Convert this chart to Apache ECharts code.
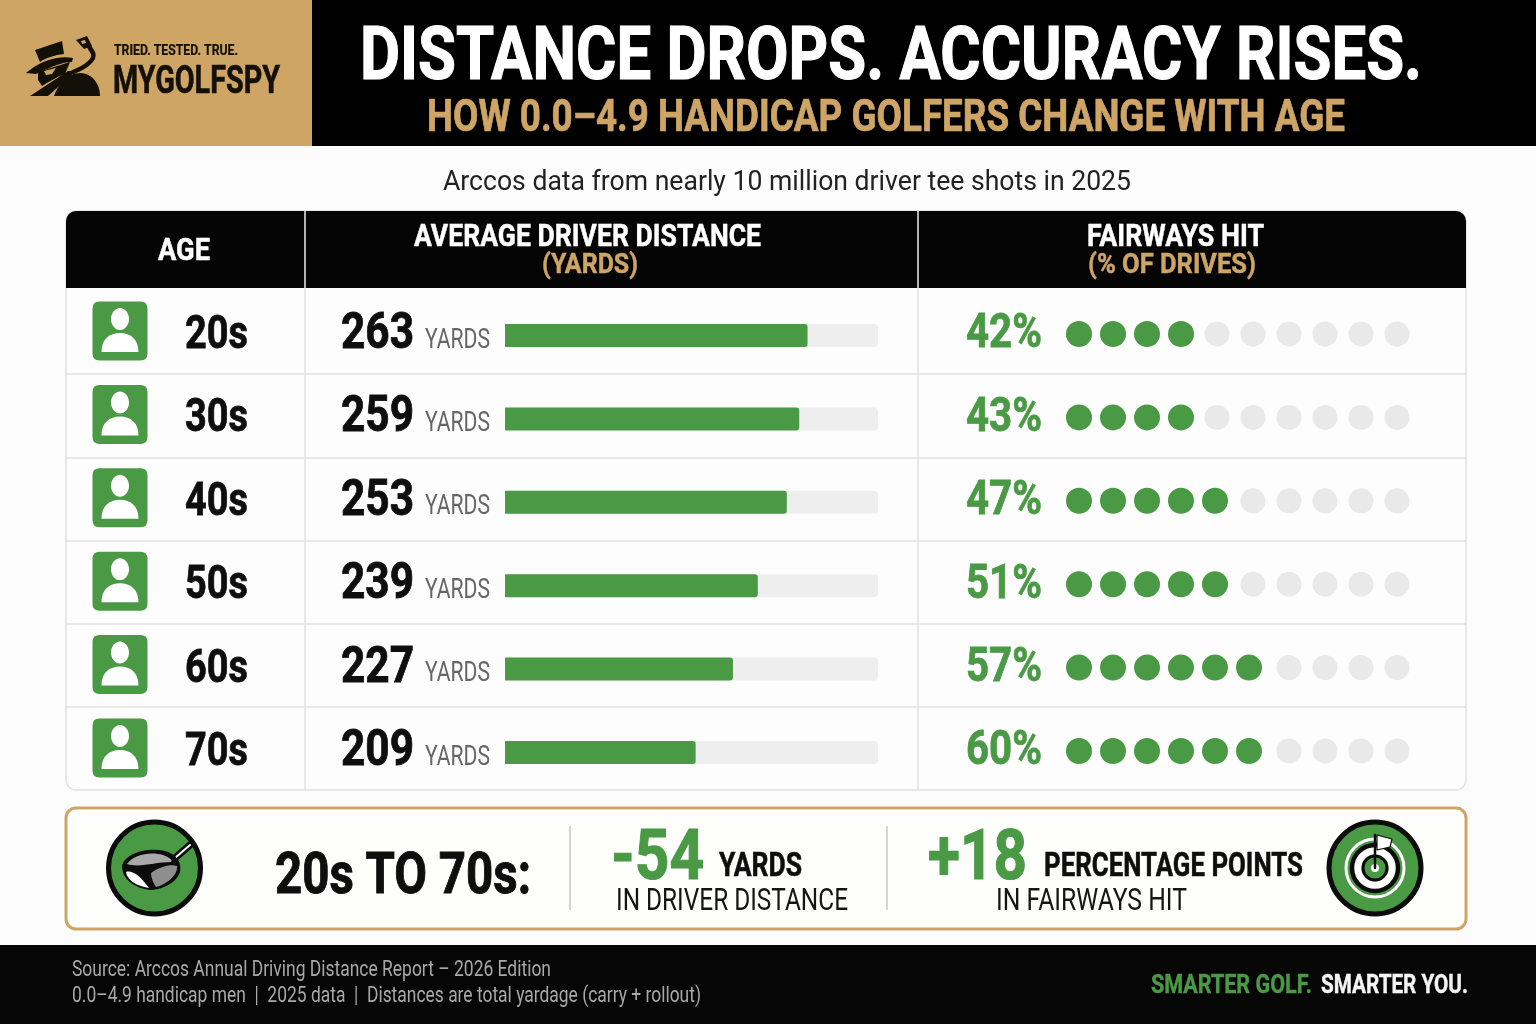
<!DOCTYPE html>
<html><head><meta charset="utf-8">
<style>html,body{margin:0;padding:0;background:#fdfcfc}#c{width:1536px;height:1024px}</style>
<script src="https://cdn.jsdelivr.net/npm/echarts@6/dist/echarts.min.js"></script>
</head><body><div id="c"></div>
<script>
const ages = ['20s','30s','40s','50s','60s','70s'];
const yards = [263,259,253,239,227,209];
const fairways = [42,43,47,51,57,60];
const filledDots = [4,4,5,5,6,6];
const dotSlots = [1,2,3,4,5,6,7,8,9,10];

const GREEN='#4a9a45', GOLD='#cfa566', FACE='Roboto,sans-serif';
const measure=document.createElement('canvas').getContext('2d');
function textSpec(text,x0,x1,y,size,fill,weight,family){
  const font=(weight||'bold')+' '+size+'px '+(family||FACE);
  measure.font=font;
  const w=measure.measureText(text).width;
  const bold=(weight||'bold')==='bold';
  return {type:'text',x:x0,y:y+size*0.09,scaleX:(x1-x0)/w,z:5,silent:true,
    style:{text:text,x:0,y:0,font:font,fill:fill,stroke:bold?fill:'none',lineWidth:bold?size*0.016:0,
           textAlign:'left',textVerticalAlign:'middle'}};
}
const T=textSpec;
let pid=0;
function P(d,fill,stroke,lw,z){
  const name='iconPath'+(pid++);
  echarts.graphic.registerShape(name,echarts.graphic.extendPath(d,{}));
  return {type:name,z:z||6,silent:true,style:{fill:fill||'none',stroke:stroke||'none',lineWidth:lw||0,lineJoin:'round',lineCap:'round'}};
}
function rect(x,y,w,h,fill,r,stroke,lw){return {type:'rect',z:1,silent:true,shape:{x,y,width:w,height:h,r:r||0},style:{fill:fill||'none',stroke:stroke||'none',lineWidth:lw||0}};}
function line(x1,y1,x2,y2,c,lw){return {type:'line',z:3,silent:true,shape:{x1,y1,x2,y2},style:{stroke:c,lineWidth:lw}};}
function circ(cx,cy,r,fill,stroke,lw){return {type:'circle',z:6,silent:true,shape:{cx,cy,r},style:{fill:fill||'none',stroke:stroke||'none',lineWidth:lw||0}};}

const RULE='#e4e0de';
const gfx=[
  rect(0,0,1536,146,'#000'), rect(0,0,312,146,GOLD),
  rect(0,945,1536,79,'#060606'),
  rect(66,211,1400,579,'#fefdfd',10,RULE,1.5),
  rect(66,211,1400,77,'#050505',[10,10,0,0]),
  rect(66,808,1400,121,'#fefefd',10,GOLD,3),
  line(305,211,305,288,'#eee',1.5), line(918,211,918,288,'#eee',1.5),
  line(305,288,305,790,RULE,1.5), line(918,288,918,790,RULE,1.5),
  line(66,374,1466,374,RULE,1.5), line(66,458,1466,458,RULE,1.5), line(66,541,1466,541,RULE,1.5),
  line(66,624,1466,624,RULE,1.5), line(66,707,1466,707,RULE,1.5),
  line(570,826,570,910,'#c9c5c0',1.5), line(887,826,887,910,'#c9c5c0',1.5),

  T('TRIED. TESTED. TRUE.',114,238,50,15,'#141008'),
  T('MYGOLFSPY',113,280,80,38,'#141008'),
  T('DISTANCE DROPS. ACCURACY RISES.',360,1422,54,74,'#fff'),
  T('HOW 0.0–4.9 HANDICAP GOLFERS CHANGE WITH AGE',427,1345,116,44,GOLD),
  T('Arccos data from nearly 10 million driver tee shots in 2025',443,1131,180,28,'#222','normal','Roboto'),
  T('AGE',158,210,249,31,'#fff'),
  T('AVERAGE DRIVER DISTANCE',414,761,235,31,'#fff'),
  T('(YARDS)',542,638,264,27,GOLD),
  T('FAIRWAYS HIT',1087,1264,235,31,'#fff'),
  T('(% OF DRIVES)',1088,1256,264,27,GOLD),
  T('20s TO 70s:',275,531,873,58,'#0e0e0e'),
  T('-54',611,704,855,70,GREEN),
  T('YARDS',719,802,864,34,'#0e0e0e'),
  T('IN DRIVER DISTANCE',616,848,899,31,'#151515','normal'),
  T('+18',928,1027,855,70,GREEN),
  T('PERCENTAGE POINTS',1044,1303,864,34,'#0e0e0e'),
  T('IN FAIRWAYS HIT',996,1187,899,31,'#151515','normal'),
  T('Source: Arccos Annual Driving Distance Report – 2026 Edition',72,551,969,22,'#a8a8a8','normal'),
  T('0.0–4.9 handicap men  |  2025 data  |  Distances are total yardage (carry + rollout)',72,701,995,22,'#a8a8a8','normal'),
  T('SMARTER GOLF.',1151,1312,984,26,GREEN),
  T('SMARTER YOU.',1321,1468,984,26,'#f4f4f4'),

  // logo
  P('M35,50 L62,41 L64,54 C55,55 45,58 40,62 Z','#141008'),
  P('M26,73 C40,60 60,55 73,58 L72,62 C60,62 45,70 36,74 Z','#141008'),
  P('M38,72 L70,62 L65,74 C56,77 49,82 42,86 L38,80 Z','#141008'),
  P('M44,71 L56,68 L52,74 L46,75 Z',GOLD),
  P('M30,96 L68,71 L76,71 L48,96 Z','#141008'),
  P('M54,96 C58,84 68,73 80,73 C92,73 100,84 100,96 Z','#141008'),
  P('M73,72 C84,68 96,60 93,53 L87,43','none','#141008',4.5),
  P('M76,40 L87,36 L92,46 L84,49 Z','#141008'),
  P('M81,41 L85,40 L86,43 L82,44 Z',GOLD),

  // club badge
  circ(154.5,868,46,GREEN,'#0c0c0c',5),
  P('M175,858 L190,845','none','#0c0c0c',7),
  P('M175,858 L190,845','none','#fff',2),
  P('M122,866 C125,852 150,847 165,851 C176,854 182,862 180,872 C176,884 160,890 150,890 C135,888 122,880 122,866 Z','#0c0c0c'),
  P('M127,864 C133,855 150,851 163,855 C170,858 173,860 171,862 C155,862 140,868 127,864 Z','#a9a9a9'),
  P('M126,872 C131,870 139,874 149,888 C136,886 127,880 126,872 Z','#fff'),
  P('M151,873 C160,866 172,864 177,866 C178,876 165,885 156,887 C153,882 151,878 151,873 Z','#8e8e8e'),

  // target badge
  circ(1375,868,46,GREEN,'#0c0c0c',5),
  circ(1375,868,29,'none','#fff',3),
  circ(1375,868,23,'#fff','#0c0c0c',4.5),
  circ(1375,868,15,GREEN,'#fff',3),
  circ(1375,868,12,GREEN,'#0c0c0c',3),
  circ(1375,868,4,'#fff','#0c0c0c',0),
  P('M1375,868 L1375,835','none','#0c0c0c',2.5),
  P('M1377,835 L1392,839 L1390,847 L1377,850 Z','#fff','#0c0c0c',1.2)
];

const ROW=83.4, GH=ROW*6;
const dotsHit=[], dotsMiss=[];
filledDots.forEach(function(n,r){dotSlots.forEach(function(s){(s<=n?dotsHit:dotsMiss).push([s,r]);});});

const hiddenX=function(g,min,max){return {type:'value',gridIndex:g,min:min,max:max,show:false};};
const catY=function(g){return {type:'category',gridIndex:g,inverse:true,data:ages,show:false};};

const ROUND='path://M7,0 L48,0 Q55,0 55,7 L55,52 Q55,59 48,59 L7,59 Q0,59 0,52 L0,7 Q0,0 7,0 Z';
const PERSON='path://M18.5,0 C23.5,0 27.5,5 27.5,11 C27.5,17 23.5,22 18.5,22 C13.5,22 9.5,17 9.5,11 C9.5,5 13.5,0 18.5,0 Z M0,44 C0,31 8,25 18.5,25 C29,25 37,31 37,44 Z';
const rowIdx=ages.map(function(a,r){return [0,r];});

// one column of row text placed through the category scale
function column(values,fmt,x0,x1,dy,size,color,weight){
  return {type:'custom',xAxisIndex:3,yAxisIndex:3,silent:true,z:8,
    data:values.map(function(v,r){return [0,r];}),
    renderItem:function(params,api){
      const r=api.value(1), y=api.coord([0,r])[1];
      return textSpec(fmt(values[r]),x0,x1,y+dy,size,color,weight);
    }};
}

const chart=echarts.init(document.getElementById('c'),null,{renderer:'canvas'});
chart.setOption({
  animation:false,
  backgroundColor:'#fdfcfc',
  graphic:{elements:gfx},
  grid:[
    {left:505,width:373,top:335.5-ROW/2,height:GH},
    {left:1079,width:170,top:334-ROW/2,height:GH},
    {left:93,width:54,top:331-ROW/2,height:GH},
    {left:0,width:1536,top:331-ROW/2,height:GH},
    {left:1217,width:180,top:334-ROW/2,height:GH}
  ],
  xAxis:[hiddenX(0,117,297),hiddenX(1,1,6),hiddenX(2,-1,1),hiddenX(3,0,1),hiddenX(4,5,10)],
  yAxis:[catY(0),catY(1),catY(2),catY(3),catY(4)],
  series:[
    {type:'bar',xAxisIndex:0,yAxisIndex:0,data:yards,barWidth:23,itemStyle:{color:GREEN,borderRadius:[0,3,3,0]},
     showBackground:true,backgroundStyle:{color:'#eeeeee',borderRadius:4},silent:true},
    {type:'scatter',xAxisIndex:4,yAxisIndex:4,data:dotsMiss,symbolSize:25,itemStyle:{color:'#e9e9e9',opacity:1},silent:true},
    {type:'scatter',xAxisIndex:1,yAxisIndex:1,data:dotsHit,symbolSize:26,itemStyle:{color:GREEN,opacity:1},silent:true},
    {type:'scatter',xAxisIndex:2,yAxisIndex:2,data:rowIdx,symbol:ROUND,symbolSize:[55,59],itemStyle:{color:GREEN,opacity:1},silent:true,z:3},
    {type:'scatter',xAxisIndex:2,yAxisIndex:2,data:rowIdx,symbol:PERSON,symbolSize:[37,44],symbolOffset:[0,-1],itemStyle:{color:'#fff',opacity:1},silent:true,z:4},
    column(ages,function(v){return v;},185,248,1,47,'#0e0e0e'),
    column(yards,function(v){return String(v);},341,414,0,50,'#0e0e0e'),
    column(yards,function(){return 'YARDS';},425,490,7,28,'#666','normal'),
    column(fairways,function(v){return v+'%';},966,1042,0,48,GREEN)
  ]
});
</script></body></html>
